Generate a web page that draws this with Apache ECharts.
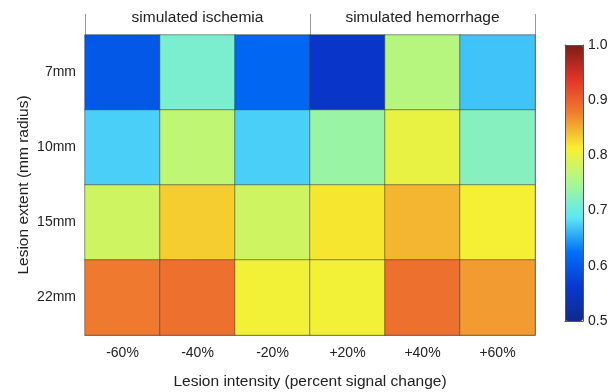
<!DOCTYPE html>
<html>
<head>
<meta charset="utf-8">
<script src="https://cdn.jsdelivr.net/npm/echarts@6/dist/echarts.min.js"></script>
<style>
  html, body { margin: 0; padding: 0; background: #fff; }
  #chart-container { width: 610px; height: 392px; }
</style>
</head>
<body>
<div id="chart-container"></div>
<script>
// 數據
var intensities = ['-60%', '-40%', '-20%', '+20%', '+40%', '+60%'];
var extents = ['7mm', '10mm', '15mm', '22mm'];
var groups = ['simulated ischemia', 'simulated hemorrhage'];
var row7 = [0.598, 0.712, 0.615, 0.555, 0.762, 0.668];
var row10 = [0.675, 0.768, 0.675, 0.738, 0.800, 0.722];
var row15 = [0.780, 0.832, 0.780, 0.818, 0.845, 0.810];
var row22 = [0.880, 0.888, 0.808, 0.808, 0.888, 0.860];
var scaleTicks = [0.5, 1.0];

var rows = [row7, row10, row15, row22];
var heatData = [];
rows.forEach(function(row, j) {
    row.forEach(function(v, i) {
        heatData.push([i, j, v]);
    });
});

var chart = echarts.init(document.getElementById('chart-container'));
var font = 'Liberation Sans, Arial, sans-serif';
var tickStyle = { color: '#444', width: 1 };

var option = {
    animation: false,
    textStyle: { fontFamily: font },
    grid: [
        { left: 85, right: 75, top: 35, bottom: 57, outerBoundsMode: 'none' }, // 主圖
        { left: 565, width: 18, top: 45, height: 276, outerBoundsMode: 'none' } // 色條
    ],
    xAxis: [
        { // 下方
            type: 'category', data: intensities, gridIndex: 0,
            axisLine: { lineStyle: { color: '#999' } },
            axisTick: { inside: true, alignWithLabel: true, length: 4, lineStyle: tickStyle },
            axisLabel: { color: '#222', fontSize: 14, margin: 11 },
            name: 'Lesion intensity (percent signal change)',
            nameLocation: 'middle', nameGap: 39, nameMoveOverlap: false,
            nameTextStyle: { color: '#222', fontSize: 15.5 }
        },
        { // 上方刻度
            type: 'category', data: intensities, gridIndex: 0, position: 'top',
            axisLine: { lineStyle: { color: '#999' } },
            axisTick: { inside: true, alignWithLabel: true, length: 4, lineStyle: tickStyle },
            axisLabel: { show: false }
        },
        { // 上方分組標題
            type: 'category', data: groups, gridIndex: 0, position: 'top',
            axisLine: { show: false },
            axisTick: { show: true, inside: false, length: 21, interval: 0, lineStyle: { color: '#999' } },
            axisLabel: { color: '#222', fontSize: 15.5, margin: 9 }
        },
        { // 色條
            type: 'category', data: [''], gridIndex: 1, z: 10,
            axisLine: { lineStyle: { color: '#555' } },
            axisTick: { show: false }, axisLabel: { show: false }
        },
        {
            type: 'category', data: [''], gridIndex: 1, position: 'top', z: 10,
            axisLine: { lineStyle: { color: '#555' } },
            axisTick: { show: false }, axisLabel: { show: false }
        }
    ],
    yAxis: [
        { // 左邊
            type: 'category', data: extents, inverse: true, gridIndex: 0,
            axisLine: { lineStyle: { color: '#999' } },
            axisTick: { inside: true, alignWithLabel: true, length: 4, lineStyle: tickStyle },
            axisLabel: { color: '#222', fontSize: 14, margin: 9 },
            name: 'Lesion extent (mm radius)',
            nameLocation: 'middle', nameGap: 53, nameMoveOverlap: false,
            nameTextStyle: { color: '#222', fontSize: 15.5 }
        },
        { // 右邊
            type: 'category', data: extents, inverse: true, gridIndex: 0, position: 'right',
            axisLine: { lineStyle: { color: '#999' } },
            axisTick: { inside: true, alignWithLabel: true, length: 4, lineStyle: tickStyle },
            axisLabel: { show: false }
        },
        { // 色條刻度
            type: 'value', gridIndex: 1, position: 'right', z: 10,
            min: scaleTicks[0], max: scaleTicks[1], interval: 0.1,
            splitLine: { show: false },
            axisLine: { show: true, lineStyle: { color: '#555' } },
            axisTick: { inside: true, length: 3, lineStyle: { color: '#555' } },
            axisLabel: { color: '#222', fontSize: 14, margin: 5,
                formatter: function(v) { return v.toFixed(1); } }
        },
        {
            type: 'value', gridIndex: 1, position: 'left', z: 10,
            min: scaleTicks[0], max: scaleTicks[1], interval: 0.1,
            splitLine: { show: false },
            axisLine: { show: true, lineStyle: { color: '#555' } },
            axisTick: { inside: true, length: 3, lineStyle: { color: '#555' } },
            axisLabel: { show: false }
        }
    ],
    visualMap: {
        type: 'continuous',
        min: scaleTicks[0], max: scaleTicks[1],
        seriesIndex: 0,
        calculable: false,
        showLabel: false,
        orient: 'vertical',
        left: 565, top: 45,
        itemWidth: 18, itemHeight: 276,
        padding: 0,
        inRange: {
            color: ['#102a8c', '#0838d0', '#0070f8', '#5ce8f8', '#a8f890',
                '#f8f030', '#f08030', '#e43428', '#7c1c14']
        }
    },
    series: [{
        type: 'heatmap',
        xAxisIndex: 0, yAxisIndex: 0,
        data: heatData,
        itemStyle: { borderColor: 'rgba(60,60,60,0.55)', borderWidth: 1 },
        emphasis: { disabled: true }
    }]
};

chart.setOption(option);
</script>
</body>
</html>
